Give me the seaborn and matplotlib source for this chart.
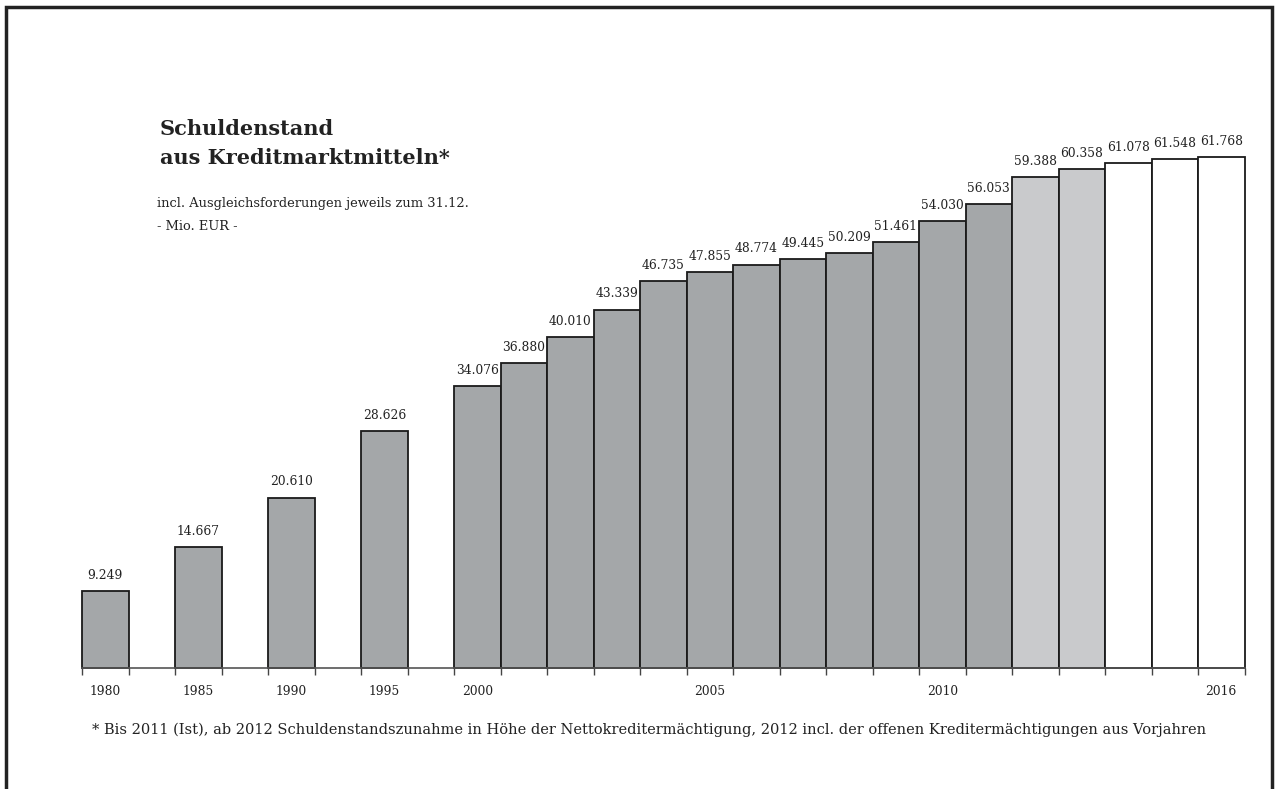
import numpy as np
import pandas as pd
import seaborn as sns
import matplotlib.pyplot as plt
from matplotlib.patches import Rectangle

sns.set_style("white")
plt.rcParams["font.family"] = ["DejaVu Serif"]

# Debt level (Mio. EUR) by year
years = [1980, 1985, 1990, 1995, 2000, 2001, 2002, 2003, 2004, 2005, 2006,
         2007, 2008, 2009, 2010, 2011, 2012, 2013, 2014, 2015, 2016]
values = [9249, 14667, 20610, 28626, 34076, 36880, 40010, 43339, 46735, 47855,
          48774, 49445, 50209, 51461, 54030, 56053, 59388, 60358, 61078, 61548, 61768]
status = ["ist"] * 16 + ["plan"] * 2 + ["prognose"] * 3
tick_years = [1980, 1985, 1990, 1995, 2000, 2005, 2010, 2016]

# slot index: the early five-year steps leave an empty slot between bars
def slot(y):
    return (y - 1980) // 5 * 2 if y <= 2000 else 8 + (y - 2000)

df = pd.DataFrame({"jahr": years, "pos": [slot(y) for y in years],
                   "wert": values, "status": status})

palette = {"ist": "#a4a7a9", "plan": "#c9cacc", "prognose": "#ffffff"}

W, H = 1276, 789
fig = plt.figure(figsize=(W / 100, H / 100), dpi=100)
ax = fig.add_axes([82 / W, 121 / H, 1162.5 / W, 579 / H])

sns.barplot(data=df, x="pos", y="wert", hue="status", palette=palette,
            native_scale=True, width=1.0, dodge=False, legend=False,
            edgecolor="#1a1a1a", linewidth=1.3, saturation=1, ax=ax)
for patch in ax.patches:
    patch.set_clip_on(False)

ax.set_xlim(-0.5, 24.5)
ax.set_ylim(0, 70000)

for p, v in zip(df["pos"], df["wert"]):
    ax.text(p, v + 1100, f"{v:,}".replace(",", "."), ha="center", va="bottom",
            fontsize=8.8, color="#222222")

# tick marks at bar edges, year labels under selected bars
edges = sorted(set([p - 0.5 for p in df["pos"]] + [p + 0.5 for p in df["pos"]]))
ax.set_xticks(edges)
ax.set_xticklabels([])
ax.tick_params(axis="x", which="major", bottom=True, length=5, width=1,
               color="#444444", direction="out")
ax.set_xticks([slot(y) for y in tick_years], minor=True)
ax.set_xticklabels([str(y) for y in tick_years], minor=True, fontsize=8.8, color="#222222")
ax.tick_params(axis="x", which="minor", bottom=True, length=0, pad=12)
ax.set_yticks([])
ax.set_xlabel("")
ax.set_ylabel("")
for s in ["top", "right", "left"]:
    ax.spines[s].set_visible(False)
ax.spines["bottom"].set_color("#555555")
ax.spines["bottom"].set_linewidth(1.2)

fig.text(160 / W, 1 - 135 / H, "Schuldenstand", fontsize=15, fontweight="bold",
         color="#222222", va="baseline")
fig.text(160 / W, 1 - 164 / H, "aus Kreditmarktmitteln*", fontsize=15,
         fontweight="bold", color="#222222", va="baseline")
fig.text(157 / W, 1 - 203 / H, "incl. Ausgleichsforderungen jeweils zum 31.12.",
         fontsize=9.4, color="#222222", va="center")
fig.text(157 / W, 1 - 226 / H, "- Mio. EUR -", fontsize=9.4, color="#222222",
         va="center")
fig.text(92 / W, 1 - 730 / H,
         "* Bis 2011 (Ist), ab 2012 Schuldenstandszunahme in Höhe der "
         "Nettokreditermächtigung, 2012 incl. der offenen Kreditermächtigungen aus Vorjahren",
         fontsize=10.5, color="#222222", va="center")

# page frame
fig.patches.append(Rectangle((5.5 / W, -0.05), 1266.5 / W, 1.05 - 7 / H,
                             transform=fig.transFigure, fill=False,
                             edgecolor="#222222", linewidth=2.5))

fig.savefig("out.png", dpi=100)
